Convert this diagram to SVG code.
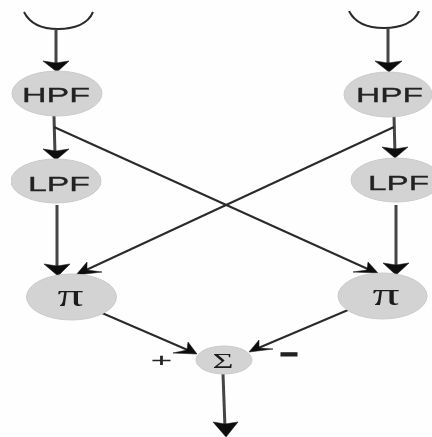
<svg xmlns="http://www.w3.org/2000/svg" width="432" height="437" viewBox="0 0 432 437">
<style>
.n{fill:#d3d3d3;stroke:#c9c9c9;stroke-width:1}
.t{font-family:"Liberation Sans",Arial,sans-serif;font-size:21px;fill:#222;text-anchor:middle;stroke:#222;stroke-width:.3}
.g{font-family:"Liberation Serif",serif;fill:#1a1a1a;text-anchor:middle}
.c{fill:none;stroke:#2a2a2a}
.v{stroke:#444;stroke-width:3}
.d{stroke-width:2}
.a{fill:#0c0c0c;stroke:#0c0c0c;stroke-width:.5}
</style>
<defs><filter id="soft" x="0" y="0" width="100%" height="100%"><feGaussianBlur stdDeviation="0.55"/></filter></defs>
<rect width="432" height="437" fill="#fefefe"/>
<g filter="url(#soft)">
<g id="connectors">
<path class="c" stroke-width="2" d="M24 12C30 24 42 29 58 29C74 29 88 24 93 12"/>
<path class="c" stroke-width="2" d="M349 11C355 23 368 28 384 28C400 28 414 23 419 11"/>
<line class="c v" x1="56" y1="29" x2="56" y2="66"/>
<path class="a" d="M43 61L56 63L69 61L57 72Z"/>
<line class="c v" x1="388" y1="28" x2="388" y2="66"/>
<path class="a" d="M375 61L388 63L402 61L389 72Z"/>
<line class="c v" x1="54" y1="116" x2="55" y2="154"/>
<path class="a" d="M43 149L56 151L69 149L56 160Z"/>
<line class="c v" x1="394" y1="116" x2="395" y2="154"/>
<path class="a" d="M382 147L395 149L408 147L395 158Z"/>
<line class="c v" x1="57" y1="205" x2="57" y2="270"/>
<path class="a" d="M44 264L57 266L70 264L58 276Z"/>
<line class="c v" x1="396" y1="205" x2="396" y2="268"/>
<path class="a" d="M383 263L396 265L409 263L396 275Z"/>
<line class="c d" x1="54" y1="127" x2="370" y2="270"/>
<path class="a" d="M353 272L367 270L368 262L378 273Z"/>
<line class="c d" x1="394" y1="127" x2="84" y2="271"/>
<path class="a" d="M102 272L87 270L87 262L76 275Z"/>
<line class="c d" x1="102" y1="313" x2="190" y2="351"/>
<path class="a" d="M173 353L187 350L188 342L197 354Z"/>
<line class="c d" x1="348" y1="310" x2="256" y2="349"/>
<path class="a" d="M273 349L259 348L259 340L249 352Z"/>
<line class="c v" x1="223" y1="374" x2="225" y2="428"/>
<path class="a" d="M213 422L225 424L238 422L226 437Z"/>
</g>
<g id="hpf-left"><ellipse class="n" cx="57" cy="93.500" rx="45" ry="22.500"/><text class="t" x="56" y="102" textLength="68" lengthAdjust="spacingAndGlyphs">HPF</text></g>
<g id="hpf-right"><ellipse class="n" cx="388" cy="94.500" rx="44" ry="22.500"/><text class="t" x="389.500" y="102" textLength="67" lengthAdjust="spacingAndGlyphs">HPF</text></g>
<g id="lpf-left"><ellipse class="n" cx="56" cy="181" rx="45" ry="22"/><text class="t" x="59" y="191" textLength="62" lengthAdjust="spacingAndGlyphs">LPF</text></g>
<g id="lpf-right"><ellipse class="n" cx="396" cy="180" rx="45" ry="22"/><text class="t" x="398.500" y="189.500" textLength="61" lengthAdjust="spacingAndGlyphs">LPF</text></g>
<g id="pi-left"><ellipse class="n" cx="71.500" cy="297" rx="45" ry="23"/><text class="g" font-size="32" x="70.500" y="306" textLength="26" lengthAdjust="spacingAndGlyphs">π</text></g>
<g id="pi-right"><ellipse class="n" cx="382.500" cy="296" rx="44.500" ry="23"/><text class="g" font-size="32" x="386" y="305" textLength="27" lengthAdjust="spacingAndGlyphs">π</text></g>
<g id="sum"><ellipse class="n" cx="224" cy="360" rx="28" ry="14"/><text class="g" font-size="21" x="223" y="368" textLength="21" lengthAdjust="spacingAndGlyphs">Σ</text></g>
<g id="plus"><text class="t" style="font-size:19px;stroke-width:.2" x="161.500" y="367" textLength="21" lengthAdjust="spacingAndGlyphs">+</text></g>
<g id="minus"><text class="t" style="font-size:32px;font-weight:bold;stroke-width:1" x="289" y="363" textLength="18" lengthAdjust="spacingAndGlyphs">–</text></g>
</g>
</svg>
